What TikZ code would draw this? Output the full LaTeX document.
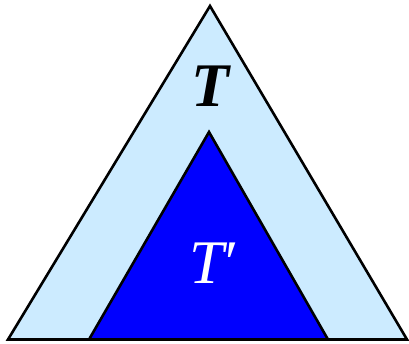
\documentclass[tikz,border=0pt]{standalone}
\usepackage{fontspec}
\setmainfont{Liberation Serif}
\definecolor{lightfill}{HTML}{CCEBFF}
\definecolor{darkfill}{HTML}{0000FF}
\begin{document}
\begin{tikzpicture}[x=1pt,y=-1pt,
  tri/.style={draw=black,line width=2.6pt,line join=miter},
  lbl/.style={inner sep=0pt,font=\fontsize{62}{62}\selectfont}]
\useasboundingbox (0,0) rectangle (409,344);
\coordinate (oa) at (210,6);
\coordinate (ol) at (8,339.5);
\coordinate (or) at (407,339.5);
\coordinate (ia) at (209,132);
\coordinate (il) at (89,339.5);
\coordinate (ir) at (328,339.5);
\filldraw[tri,fill=lightfill] (oa) -- (ol) -- (or) -- cycle;
\filldraw[tri,fill=darkfill] (ia) -- (il) -- (ir) -- cycle;
\node[lbl] (t) at (211,86) {\textbf{\textit{T}}};
\node[lbl,text=white] (tp) at (213,263) {\textit{T\kern-0.04em\symbol{"2032}}};
\end{tikzpicture}
\end{document}
